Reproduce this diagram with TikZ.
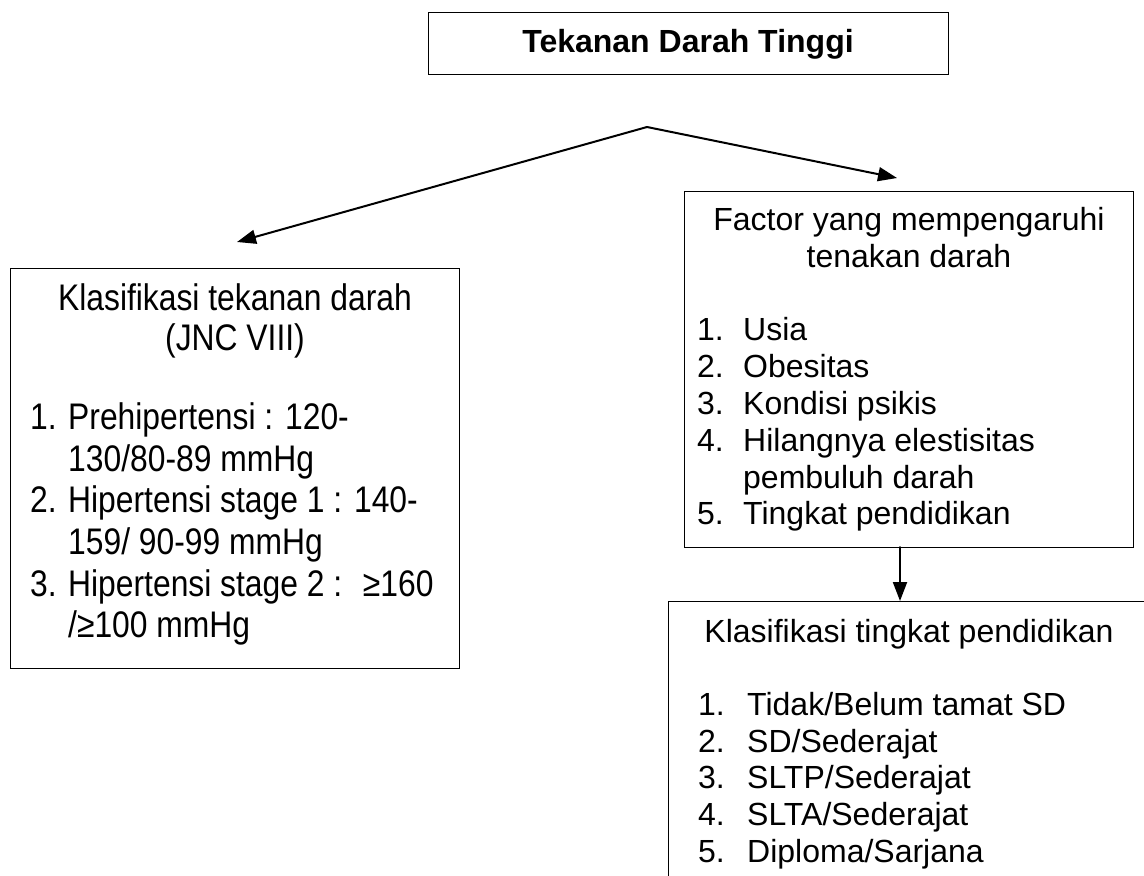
\documentclass[tikz,border=0pt]{standalone}
\usepackage{fontspec}
\setmainfont{Liberation Sans}
\newfontfamily\narrowfont[FakeStretch=0.86]{Liberation Sans}
\usetikzlibrary{arrows.meta}
\begin{document}
\begin{tikzpicture}[x=1pt,y=-1pt,
  box/.style={draw=black, line width=1.3pt, inner sep=0pt, anchor=north west},
  txt/.style={inner sep=0pt, font=\fontsize{32}{36.8}\selectfont},
  ntxt/.style={inner sep=0pt, font=\narrowfont\fontsize{37}{42}\selectfont},
  conn/.style={line width=2pt, line cap=round, -{Triangle[length=19pt,width=14pt]}}]
\useasboundingbox (0,0) rectangle (1144,876);
\fill[white] (0,0) rectangle (1144,876);
\clip (0,0) rectangle (1144,876);

% boxes
\node[box, minimum width=520pt, minimum height=62pt] (title) at (428,12) {};
\node[box, minimum width=449pt, minimum height=400pt] (klas) at (10,268) {};
\node[box, minimum width=449pt, minimum height=356pt] (faktor) at (684,191) {};
\node[box, minimum width=600pt, minimum height=400pt] (edu) at (668,601) {};

% title
\node[txt, anchor=base] (titletext) at (688,52) {\bfseries Tekanan Darah Tinggi};

% left box text
\node[ntxt, anchor=base] (k1) at (235,310) {Klasifikasi tekanan darah};
\node[ntxt, anchor=base] (k2) at (235,350) {(JNC VIII)};
\node[ntxt, anchor=base west] (kn1) at (30,429) {1.};
\node[ntxt, anchor=base west] (kt1) at (68,429) {Prehipertensi : 120-};
\node[ntxt, anchor=base west] (kt1b) at (68,471) {130/80-89 mmHg};
\node[ntxt, anchor=base west] (kn2) at (30,512) {2.};
\node[ntxt, anchor=base west] (kt2) at (68,512) {Hipertensi stage 1 : 140-};
\node[ntxt, anchor=base west] (kt2b) at (68,554) {159/ 90-99 mmHg};
\node[ntxt, anchor=base west] (kn3) at (30,596) {3.};
\node[ntxt, anchor=base west] (kt3) at (68,596) {Hipertensi stage 2 : \ ≥160};
\node[ntxt, anchor=base west] (kt3b) at (68,637) {/≥100 mmHg};

% right box text
\node[txt, anchor=base] (f1) at (909,230) {Factor yang mempengaruhi};
\node[txt, anchor=base] (f2) at (909,267) {tenakan darah};
\node[txt, anchor=base west] (fn1) at (697,340) {1.};
\node[txt, anchor=base west] (ft1) at (743,340) {Usia};
\node[txt, anchor=base west] (fn2) at (697,377) {2.};
\node[txt, anchor=base west] (ft2) at (743,377) {Obesitas};
\node[txt, anchor=base west] (fn3) at (697,414) {3.};
\node[txt, anchor=base west] (ft3) at (743,414) {Kondisi psikis};
\node[txt, anchor=base west] (fn4) at (697,451) {4.};
\node[txt, anchor=base west] (ft4) at (743,451) {Hilangnya elestisitas};
\node[txt, anchor=base west] (ft4b) at (743,488) {pembuluh darah};
\node[txt, anchor=base west] (fn5) at (697,524) {5.};
\node[txt, anchor=base west] (ft5) at (743,524) {Tingkat pendidikan};

% bottom box text
\node[txt, anchor=base] (e0) at (909,642) {Klasifikasi tingkat pendidikan};
\node[txt, anchor=base west] (en1) at (698,715) {1.};
\node[txt, anchor=base west] (et1) at (747,715) {Tidak/Belum tamat SD};
\node[txt, anchor=base west] (en2) at (698,752) {2.};
\node[txt, anchor=base west] (et2) at (747,752) {SD/Sederajat};
\node[txt, anchor=base west] (en3) at (698,788) {3.};
\node[txt, anchor=base west] (et3) at (747,788) {SLTP/Sederajat};
\node[txt, anchor=base west] (en4) at (698,825) {4.};
\node[txt, anchor=base west] (et4) at (747,825) {SLTA/Sederajat};
\node[txt, anchor=base west] (en5) at (698,862) {5.};
\node[txt, anchor=base west] (et5) at (747,862) {Diploma/Sarjana};

% connectors
\coordinate (split) at (647,127);
\coordinate (lt) at (237,242);
\coordinate (rt) at (897,178);
\coordinate (down) at (900,547);
\draw[conn] (split) -- (lt);
\draw[conn] (split) -- (rt);
\draw[conn] (down) -- (down |- edu.north);
\end{tikzpicture}
\end{document}
